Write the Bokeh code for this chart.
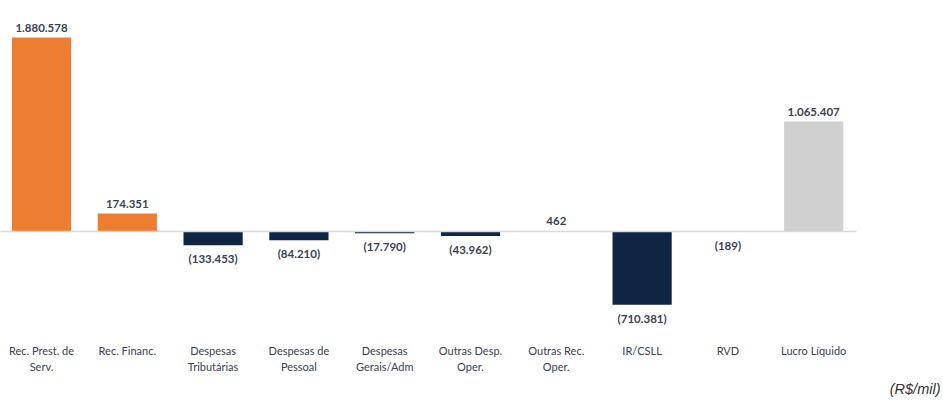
from bokeh.plotting import figure
from bokeh.models import ColumnDataSource, Range1d, Label
from bokeh.core.properties import value
from bokeh.embed import file_html
from bokeh.resources import INLINE

categories = ["Rec. Prest. de\nServ.", "Rec. Financ.", "Despesas\nTributárias", "Despesas de\nPessoal",
              "Despesas\nGerais/Adm", "Outras Desp.\nOper.", "Outras Rec.\nOper.", "IR/CSLL", "RVD", "Lucro Líquido"]
values = [1880578, 174351, -133453, -84210, -17790, -43962, 462, -710381, -189, 1065407]
kinds = ["rev", "rev", "neg", "neg", "neg", "neg", "neg", "neg", "neg", "total"]

palette = {"rev": "#ED7D31", "neg": "#0F2544", "total": "#D0D0D0"}

def fmt(v):
    s = f"{abs(v):,}".replace(",", ".")
    return f"({s})" if v < 0 else s

xs = [i + 0.5 for i in range(len(categories))]
colors = [palette[k] for k in kinds]
labels = [fmt(v) for v in values]

scale = 194 / 1880578.0
y_end = 231 / scale
y_start = -169 / scale

p = figure(width=943, height=400, output_backend="svg", toolbar_location=None,
           x_range=Range1d(0.5 - 41 / 85.8, 0.5 - 41 / 85.8 + 943 / 85.8),
           y_range=Range1d(y_start, y_end), min_border=0)
p.axis.visible = False
p.grid.visible = False
p.outline_line_color = None
p.background_fill_color = "white"

src = ColumnDataSource(dict(x=xs, top=values, color=colors, label=labels, cat=categories,
                            base=[y_start] * len(xs)))

p.vbar(x="x", top="top", bottom=0, width=0.69, fill_color="color", line_color=None, source=src)

p.line(x=[0, len(categories)], y=[0, 0], line_color="#D9D9D9", line_width=1.5)

font = value("Lato")
pos_idx = [i for i, v in enumerate(values) if v >= 0]
neg_idx = [i for i, v in enumerate(values) if v < 0]
psrc = ColumnDataSource(dict(x=[xs[i] for i in pos_idx], y=[values[i] for i in pos_idx], t=[labels[i] for i in pos_idx]))
nsrc = ColumnDataSource(dict(x=[xs[i] for i in neg_idx], y=[values[i] for i in neg_idx], t=[labels[i] for i in neg_idx]))

p.text(x="x", y="y", text="t", source=psrc, text_align="center", text_baseline="bottom", y_offset=-6,
       text_font=font, text_font_size="11.5px", text_font_style="bold", text_color="#3B4152")
p.text(x="x", y="y", text="t", source=nsrc, text_align="center", text_baseline="top", y_offset=7,
       text_font=font, text_font_size="11.5px", text_font_style="bold", text_color="#3B4152")

p.text(x="x", y="base", text="cat", source=src, text_align="center", text_baseline="top", y_offset=-57,
       text_font=font, text_font_size="11px", text_color="#3B4152", text_line_height=1.3)

p.add_layout(Label(x=940, y=4, x_units="screen", y_units="screen", text="(R$/mil)", text_align="right",
                   text_font="Liberation Sans", text_font_size="14.5px", text_font_style="italic",
                   text_color="#333333"))

open("out.html", "w").write(file_html(p, INLINE))
